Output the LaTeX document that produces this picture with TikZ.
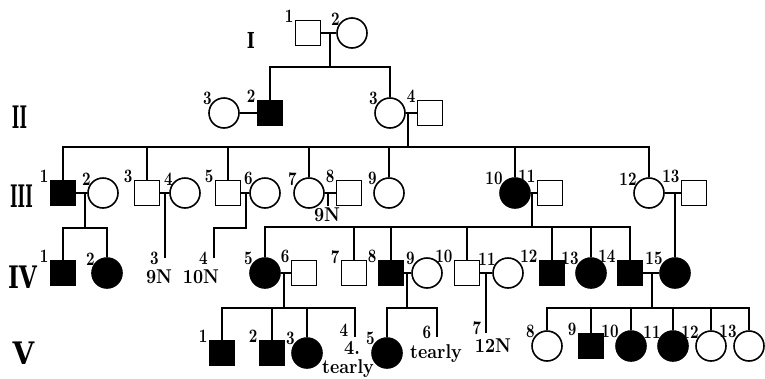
\documentclass[tikz,border=0pt]{standalone}
\usepackage{graphicx}
\usepackage{fontspec}
\newfontfamily\numfont{lmroman10-bold.otf}[FakeStretch=0.78]
\newfontfamily\txtfont{lmroman10-bold.otf}[FakeStretch=0.88]
\newfontfamily\genfont{DejaVu Serif Bold}
\tikzset{
 male/.style={draw,minimum size=25pt,inner sep=0pt},
 female/.style={draw,circle,minimum size=30pt,inner sep=0pt},
 aff/.style={fill=black},
 num/.style={font=\fontsize{19}{19}\selectfont\numfont,inner sep=0.5pt},
 nr/.style={label={[num,anchor=east,yshift=3pt]north west:#1}},
 txt/.style={font=\fontsize{20}{20}\selectfont\txtfont,inner sep=0pt},
 gen/.style={font=\fontsize{31}{31}\selectfont\genfont,inner sep=0pt}
}
\newcommand{\gennum}[2][0.52]{\scalebox{#1}[1]{#2}}
\begin{document}
\begin{tikzpicture}[x=1pt,y=-1pt,line width=1.6pt]
 \useasboundingbox (0,0) rectangle (765,378);
 \node[gen,font=\fontsize{22}{22}\selectfont\genfont] (gI) at (251,40) {\gennum[0.78]{I}}; \node[gen] (gII) at (19.5,117) {\gennum{II}};
 \node[gen] (gIII) at (21.5,196) {\gennum{III}}; \node[gen] (gIV) at (22.5,277) {\gennum[0.75]{IV}}; \node[gen] (gV) at (23.5,353) {\gennum[0.9]{V}};
 % I
 \node[male,nr=1] (I1) at (308,33) {}; \node[female,nr=2] (I2) at (352,33) {};
 \coordinate (a1) at (330,33); \coordinate (a2) at (330,67);
 \draw (I1) -- (I2) (a1) -- (a2);
 % II
 \node[female,nr=3] (II3a) at (224,113) {}; \node[male,aff,nr=2] (II2) at (270,113) {};
 \node[female,nr=3] (II3) at (390,113) {}; \node[male,nr=4] (II4) at (430,113) {};
 \coordinate (b1) at (408,113); \coordinate (b2) at (408,147);
 \draw (II3a) -- (II2) (II3) -- (II4) (b1) -- (b2) (II2) |- (a2) (II3) |- (a2);
 % III
 \node[male,aff,nr=1] (III1) at (63,193) {}; \node[female,nr=2] (III2) at (103,193) {};
 \node[male,nr=3] (III3) at (147,193) {}; \node[female,nr=4] (III4) at (185,193) {};
 \node[male,nr=5] (III5) at (228,193) {}; \node[female,nr=6] (III6) at (265,193) {};
 \node[female,nr=7] (III7) at (309,193) {}; \node[male,nr=8] (III8) at (349,193) {};
 \node[female,nr=9] (III9) at (389,193) {};
 \node[female,aff,nr=10] (III10) at (515,193) {}; \node[male,nr=11] (III11) at (550,193) {};
 \node[female,nr=12] (III12) at (649,193) {}; \node[male,nr=13] (III13) at (694,193) {};
 \foreach \k in {III1,III3,III5,III7,III9,III10,III12} \draw (\k) |- (b2);
 \draw (III1) -- (III2) (III3) -- (III4) (III5) -- (III6) (III7) -- (III8) (III10) -- (III11) (III12) -- (III13);
 \coordinate (c1) at (85,193); \coordinate (c2) at (85,228);
 \coordinate (d1) at (165,193); \coordinate (d2) at (165,258);
 \coordinate (e1) at (246,193); \coordinate (e2) at (246,228); \coordinate (e3) at (214,258);
 \coordinate (f1) at (328,193); \coordinate (f2) at (328,206);
 \coordinate (g1) at (532,193); \coordinate (g2) at (532,227);
 \coordinate (h1) at (675,193);
 \draw (c1) -- (c2) (d1) -- (d2) (e1) -- (e2) -| (e3) (f1) -- (f2) (g1) -- (g2);
 \node[num,left=5pt] (n43) at (d2) {3}; \node[txt] (t43) at (159,277) {9N};
 \node[num,left=5pt] (n44) at (e3) {4}; \node[txt] (t44) at (201,277) {10N};
 \node[txt] (t38) at (327,215) {9N};
 % IV
 \node[male,aff,nr=1] (IV1) at (63,273) {}; \node[female,aff,nr=2] (IV2) at (107,273) {};
 \draw (IV1) |- (c2) (IV2) |- (c2);
 \node[female,aff,nr=5] (IV5) at (265,273) {}; \node[male,nr=6] (IV6) at (304,273) {};
 \node[male,nr=7] (IV7) at (354,273) {}; \node[male,aff,nr=8] (IV8) at (391,273) {}; \node[female,nr=9] (IV9) at (427,273) {};
 \node[male,nr=10] (IV10) at (467,273) {}; \node[female,nr=11] (IV11) at (508,273) {};
 \node[male,aff,nr=12] (IV12) at (552,273) {}; \node[female,aff,nr=13] (IV13) at (591,273) {};
 \node[male,aff,nr=14] (IV14) at (630,273) {}; \node[female,aff,nr=15] (IV15) at (675,273) {};
 \foreach \k in {IV5,IV7,IV8,IV10,IV12,IV13,IV14} \draw (\k) |- (g2);
 \draw (h1) -- (IV15) (IV5) -- (IV6) (IV8) -- (IV9) (IV10) -- (IV11) (IV14) -- (IV15);
 \coordinate (i1) at (284,273); \coordinate (i2) at (284,308);
 \coordinate (k1) at (407,273); \coordinate (k2) at (407,308);
 \coordinate (l1) at (486,273); \coordinate (l2) at (486,333);
 \coordinate (m1) at (652,273); \coordinate (m2) at (652,308);
 \draw (i1) -- (i2) (k1) -- (k2) (l1) -- (l2) (m1) -- (m2);
 % V
 \node[male,aff,nr=1] (V1) at (222,353) {}; \node[male,aff,nr=2] (V2) at (272,353) {}; \node[female,aff,nr=3] (V3) at (307,353) {};
 \coordinate (v4) at (355,337);
 \draw (V1) |- (i2) (V2) |- (i2) (V3) |- (i2) (v4) |- (i2);
 \node[num] (n54) at (344,330) {4}; \node[txt] (t54) at (352,348) {4.}; \node[txt] (t54b) at (348,369) {tearly};
 \node[female,aff,nr=5] (V5) at (387,353) {}; \coordinate (v6) at (437,337);
 \draw (V5) |- (k2) (v6) |- (k2);
 \node[num] (n56) at (427,332) {6}; \node[txt] (t56) at (436,354) {tearly};
 \node[num] (n57) at (477,328) {7}; \node[txt] (t57) at (493,346) {12N};
 \node[female,nr=8] (V8) at (547,346) {}; \node[male,aff,nr=9] (V9) at (591,346) {};
 \node[female,aff,nr=10] (V10) at (631,346) {}; \node[female,aff,nr=11] (V11) at (673,346) {};
 \node[female,nr=12] (V12) at (711,346) {}; \node[female,nr=13] (V13) at (749,346) {};
 \foreach \k in {V8,V9,V10,V11,V12,V13} \draw (\k) |- (m2);
\end{tikzpicture}
\end{document}
